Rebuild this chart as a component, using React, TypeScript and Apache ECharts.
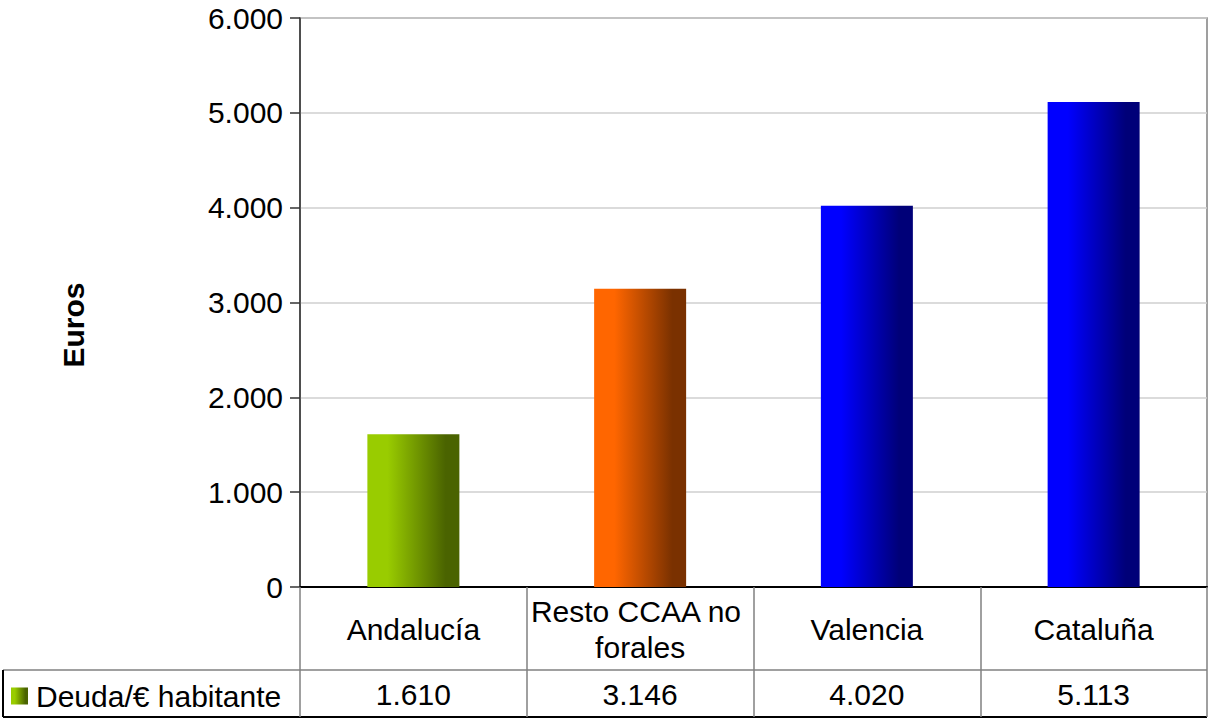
import React, { useEffect, useRef } from "react";
import * as echarts from "echarts";

const categories = ["Andalucía", "Resto CCAA no forales", "Valencia", "Cataluña"];
const values = [1610, 3146, 4020, 5113];
const seriesName = "Deuda/€ habitante";
const yAxisTitle = "Euros";
const yMin = 0;
const yMax = 6000;
const yStep = 1000;

const barColors: [string, string][] = [
  ["#99CC00", "#4A6300"],
  ["#FF6600", "#7A3100"],
  ["#0000FF", "#000078"],
  ["#0000FF", "#000078"],
];

const FONT = "'Liberation Sans', Arial, sans-serif";

function fmt(n: number): string {
  return String(n).replace(/\B(?=(\d{3})+(?!\d))/g, ".");
}

function grad(c: [string, string]) {
  return new echarts.graphic.LinearGradient(0, 0, 1, 0, [
    { offset: 0, color: c[0] },
    { offset: 0.22, color: c[0] },
    { offset: 0.85, color: c[1] },
    { offset: 1, color: c[1] },
  ]);
}

export default function App() {
  const ref = useRef<HTMLDivElement>(null);
  useEffect(() => {
    if (!ref.current) return;
    const chart = echarts.init(ref.current, null, { renderer: "svg" });
    chart.setOption({
      animation: false,
      backgroundColor: "#ffffff",
      textStyle: { fontFamily: FONT },
      grid: {
        left: 300,
        right: 2,
        top: 18,
        bottom: 132,
        show: true,
        borderColor: "#808080",
        borderWidth: 1.5,
      },
      legend: {
        left: 6,
        top: 676,
        icon: "rect",
        itemWidth: 17,
        itemHeight: 17,
        data: [seriesName],
        textStyle: { fontSize: 30, color: "#000", fontFamily: FONT, padding: [0, 0, 0, 3] },
      },
      xAxis: [
        {
          type: "category",
          data: categories,
          position: "bottom",
          axisLine: { show: true, lineStyle: { color: "#000", width: 2 } },
          axisTick: {
            show: true,
            interval: 0,
            length: 130,
            lineStyle: { color: "#808080", width: 1.5 },
          },
          axisLabel: {
            interval: 0,
            fontSize: 30,
            color: "#000",
            fontFamily: FONT,
            margin: 42,
            verticalAlign: "middle",
            lineHeight: 36,
            width: 222,
            overflow: "break",
          },
          splitLine: { show: false },
        },
        {
          type: "category",
          data: values.map(fmt),
          position: "bottom",
          offset: 85,
          axisLine: { show: false },
          axisTick: { show: false },
          axisLabel: {
            interval: 0,
            fontSize: 30,
            color: "#000",
            fontFamily: FONT,
            margin: 22,
            verticalAlign: "middle",
          },
        },
      ],
      yAxis: {
        type: "value",
        min: yMin,
        max: yMax,
        interval: yStep,
        axisLine: { show: true, lineStyle: { color: "#333", width: 1.5 } },
        axisTick: { show: true, length: 10, lineStyle: { color: "#333", width: 1.5 } },
        axisLabel: {
          fontSize: 30,
          color: "#000",
          fontFamily: FONT,
          margin: 17,
          formatter: (v: number) => fmt(v),
        },
        splitLine: { show: true, lineStyle: { color: "#CFCFCF", width: 1.5 } },
      },
      series: [
        {
          type: "bar",
          name: seriesName,
          xAxisIndex: 0,
          barWidth: 92,
          itemStyle: { color: grad(barColors[0]) },
          data: values.map((v, i) => ({ value: v, itemStyle: { color: grad(barColors[i]) } })),
        },
      ],
      graphic: [
        {
          type: "text",
          x: 73,
          y: 325,
          rotation: Math.PI / 2,
          style: {
            text: yAxisTitle,
            font: `bold 30px ${FONT}`,
            fill: "#000",
            align: "center",
            verticalAlign: "middle",
          },
        },
        { type: "line", shape: { x1: 3, y1: 670, x2: 1207, y2: 670 }, style: { stroke: "#808080", lineWidth: 1.5 } },
        { type: "line", shape: { x1: 3, y1: 717, x2: 1207, y2: 717 }, style: { stroke: "#000", lineWidth: 2 } },
        { type: "line", shape: { x1: 3, y1: 670, x2: 3, y2: 717 }, style: { stroke: "#000", lineWidth: 2 } },
      ],
    });
    return () => chart.dispose();
  }, []);
  return (
    <div
      ref={ref}
      style={{ position: "fixed", left: 0, top: 0, width: 1209, height: 719 }}
    />
  );
}
